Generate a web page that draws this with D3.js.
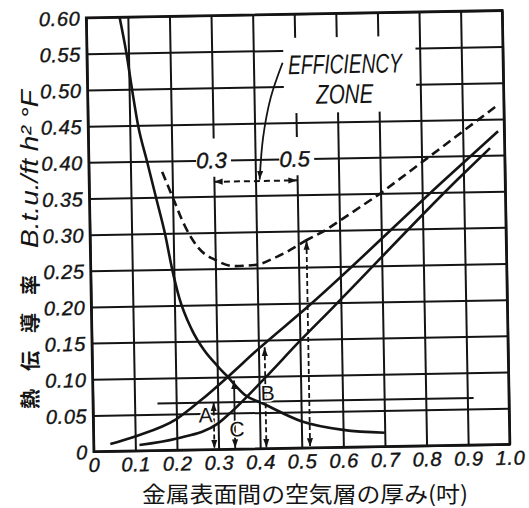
<!DOCTYPE html>
<html>
<head>
<meta charset="utf-8">
<script src="https://cdn.jsdelivr.net/npm/d3@7/dist/d3.min.js"></script>
<style>
  html, body { margin: 0; padding: 0; background: #fff; }
  svg { display: block; }
</style>
</head>
<body>
<div id="chart"></div>
<script>
// axis ticks
var xTicks = [0, 0.1, 0.2, 0.3, 0.4, 0.5, 0.6, 0.7, 0.8, 0.9, 1.0];
var xTickLabels = ["0", "0.1", "0.2", "0.3", "0.4", "0.5", "0.6", "0.7", "0.8", "0.9", "1.0"];
var yTicks = [0, 0.05, 0.10, 0.15, 0.20, 0.25, 0.30, 0.35, 0.40, 0.45, 0.50, 0.55, 0.60];
var yTickLabels = ["0", "0.05", "0.10", "0.15", "0.20", "0.25", "0.30", "0.35", "0.40", "0.45", "0.50", "0.55", "0.60"];

// curves, [thickness, coefficient]
var fallingCurve = [[0.08, 0.60], [0.095, 0.55], [0.107, 0.50], [0.12, 0.45], [0.14, 0.40], [0.16, 0.35],
  [0.18, 0.30], [0.196, 0.25], [0.212, 0.21], [0.24, 0.167], [0.27, 0.137], [0.3, 0.116], [0.325, 0.10],
  [0.365, 0.075], [0.41, 0.062], [0.5, 0.037], [0.6, 0.024], [0.7, 0.019]];
var upperRising = [[0.04, 0.01], [0.1, 0.02], [0.2, 0.043], [0.263, 0.07], [0.325, 0.10], [0.4, 0.138],
  [0.516, 0.193], [0.854, 0.367], [0.985, 0.433]];
var lowerRising = [[0.11, 0.008], [0.2, 0.016], [0.3, 0.036], [0.335, 0.053], [0.41, 0.095], [0.5, 0.148],
  [0.58, 0.193], [0.885, 0.367], [0.965, 0.41]];
var totalCurve = [[0.176, 0.385], [0.2, 0.35], [0.228, 0.31], [0.26, 0.279], [0.3, 0.262], [0.346, 0.253],
  [0.395, 0.254], [0.445, 0.264], [0.493, 0.278], [0.516, 0.286]];
var totalLine = [[0.516, 0.286], [0.565, 0.30], [0.7, 0.35], [0.98, 0.467]];
var flatLine = [[0.155, 0.065], [0.915, 0.065]];

// vertical double arrows
var arrowX = [0.29, 0.34, 0.415, 0.52];
var arrowTop = [0.065, 0.095, 0.14, 0.286];
var arrowDashed = [true, false, true, true];

// efficiency zone
var zoneRange = [0.3, 0.5];
var zoneArrowY = 0.37;
var zonePointer = [[0.47, 0.533], [0.44, 0.485], [0.42, 0.43], [0.41, 0.372]];

var markLabels = ["A", "B", "C"];
var markX = [0.27, 0.42, 0.345];
var markY = [0.048, 0.077, 0.028];

var W = 529, H = 508;
var plotL = 90, plotR = 506, plotT = 14, plotB = 448;
var narrow = "'Liberation Sans Narrow', 'Liberation Sans', Arial, sans-serif";
var ink = "#141414";

var svg = d3.select("#chart").append("svg")
  .attr("width", W)
  .attr("height", H)
  .attr("viewBox", "0 0 " + W + " " + H);

svg.append("rect").attr("width", W).attr("height", H).attr("fill", "#fff");

var defs = svg.append("defs");
defs.append("marker")
  .attr("id", "head")
  .attr("viewBox", "0 -4 10 8")
  .attr("refX", 10)
  .attr("refY", 0)
  .attr("markerWidth", 9)
  .attr("markerHeight", 7)
  .attr("markerUnits", "userSpaceOnUse")
  .attr("orient", "auto-start-reverse")
  .append("path")
  .attr("d", "M0,-3.5L10,0L0,3.5Z")
  .attr("fill", ink);

// the scan sits slightly askew
var g = svg.append("g").attr("transform", "rotate(-1,298,231)");

var x = d3.scaleLinear().domain([0, 1]).range([plotL, plotR]);
var y = d3.scaleLinear().domain([0, 0.6]).range([plotB, plotT]);

var xAxis = g.append("g")
  .attr("transform", "translate(0," + plotB + ")")
  .call(d3.axisBottom(x)
    .tickValues(xTicks)
    .tickFormat(function (d, i) { return xTickLabels[i]; })
    .tickSize(-(plotB - plotT))
    .tickPadding(6));

var yAxis = g.append("g")
  .attr("transform", "translate(" + plotL + ",0)")
  .call(d3.axisLeft(y)
    .tickValues(yTicks)
    .tickFormat(function (d, i) { return yTickLabels[i]; })
    .tickSize(-(plotR - plotL))
    .tickPadding(6));

[xAxis, yAxis].forEach(function (axis) {
  axis.select(".domain").remove();
  axis.selectAll(".tick line").attr("stroke", ink).attr("stroke-width", 2);
  axis.selectAll(".tick text")
    .attr("fill", ink)
    .attr("stroke", ink)
    .attr("stroke-width", 0.4)
    .attr("font-family", narrow)
    .attr("font-style", "italic")
    .attr("font-size", 20)
    .attr("letter-spacing", 0.6);
});
xAxis.selectAll(".tick text").attr("dy", "0.72em");
yAxis.selectAll(".tick text").attr("dy", "0.36em");

g.append("rect")
  .attr("x", plotL)
  .attr("y", plotT)
  .attr("width", plotR - plotL)
  .attr("height", plotB - plotT)
  .attr("fill", "none")
  .attr("stroke", ink)
  .attr("stroke-width", 2.6);

// blank patches where lettering sits on the grid
g.append("rect")
  .attr("x", x(0.472))
  .attr("y", y(0.567))
  .attr("width", x(0.79) - x(0.472))
  .attr("height", y(0.463) - y(0.567))
  .attr("fill", "#fff");

var zoneLabelX = [zoneRange[0], zoneRange[1]];
g.selectAll("rect.lblbg")
  .data(zoneLabelX)
  .join("rect")
  .attr("class", "lblbg")
  .attr("x", function (d) { return x(d - 0.042); })
  .attr("y", y(0.43))
  .attr("width", x(0.084) - x(0))
  .attr("height", y(0.377) - y(0.43))
  .attr("fill", "#fff");

var line = d3.line()
  .x(function (d) { return x(d[0]); })
  .y(function (d) { return y(d[1]); });

var smooth = d3.line()
  .x(function (d) { return x(d[0]); })
  .y(function (d) { return y(d[1]); })
  .curve(d3.curveMonotoneX);

[fallingCurve, upperRising, lowerRising].forEach(function (pts) {
  g.append("path")
    .attr("d", smooth(pts))
    .attr("fill", "none")
    .attr("stroke", ink)
    .attr("stroke-width", 2.6);
});

g.append("path")
  .attr("d", line(flatLine))
  .attr("fill", "none")
  .attr("stroke", ink)
  .attr("stroke-width", 2);

g.append("path")
  .attr("d", smooth(totalCurve) + line(totalLine))
  .attr("fill", "none")
  .attr("stroke", ink)
  .attr("stroke-width", 2.6)
  .attr("stroke-dasharray", "9 5");

// vertical arrows down to the axis
g.selectAll("line.varrow")
  .data(arrowX)
  .join("line")
  .attr("class", "varrow")
  .attr("x1", function (d) { return x(d); })
  .attr("x2", function (d) { return x(d); })
  .attr("y1", function (d, i) { return y(arrowTop[i]); })
  .attr("y2", y(0) - 1)
  .attr("stroke", ink)
  .attr("stroke-width", 1.8)
  .attr("stroke-dasharray", function (d, i) { return arrowDashed[i] ? "5 3" : null; })
  .attr("marker-start", "url(#head)")
  .attr("marker-end", "url(#head)");

// efficiency zone span
g.append("line")
  .attr("x1", x(zoneRange[0]))
  .attr("x2", x(zoneRange[1]))
  .attr("y1", y(zoneArrowY))
  .attr("y2", y(zoneArrowY))
  .attr("stroke", ink)
  .attr("stroke-width", 2)
  .attr("stroke-dasharray", "6 4")
  .attr("marker-start", "url(#head)")
  .attr("marker-end", "url(#head)");

g.append("path")
  .attr("d", d3.line()
    .x(function (d) { return x(d[0]); })
    .y(function (d) { return y(d[1]); })
    .curve(d3.curveCatmullRom)(zonePointer))
  .attr("fill", "none")
  .attr("stroke", ink)
  .attr("stroke-width", 1.8)
  .attr("marker-end", "url(#head)");

g.selectAll("text.zonelbl")
  .data(zoneLabelX)
  .join("text")
  .attr("class", "zonelbl")
  .attr("x", function (d) { return x(d - 0.005); })
  .attr("y", y(0.40))
  .attr("dy", "0.36em")
  .attr("text-anchor", "middle")
  .attr("font-family", narrow)
  .attr("font-style", "italic")
  .attr("font-size", 22)
  .attr("stroke", ink)
  .attr("stroke-width", 0.4)
  .attr("fill", ink)
  .text(function (d) { return d.toFixed(1); });

g.append("text")
  .attr("x", x(0.62))
  .attr("y", y(0.517))
  .attr("text-anchor", "middle")
  .attr("font-family", narrow)
  .attr("font-style", "italic")
  .attr("font-size", 27)
  .attr("textLength", 114)
  .attr("lengthAdjust", "spacingAndGlyphs")
  .attr("fill", ink)
  .text("EFFICIENCY");

g.append("text")
  .attr("x", x(0.618))
  .attr("y", y(0.4755))
  .attr("text-anchor", "middle")
  .attr("font-family", narrow)
  .attr("font-style", "italic")
  .attr("font-size", 27)
  .attr("textLength", 57)
  .attr("lengthAdjust", "spacingAndGlyphs")
  .attr("fill", ink)
  .text("ZONE");

g.selectAll("text.mark")
  .data(markLabels)
  .join("text")
  .attr("class", "mark")
  .attr("x", function (d, i) { return x(markX[i]); })
  .attr("y", function (d, i) { return y(markY[i]); })
  .attr("dy", "0.36em")
  .attr("text-anchor", "middle")
  .attr("font-family", narrow)
  .attr("font-size", 21)
  .attr("fill", ink)
  .attr("stroke", "#fff")
  .attr("stroke-width", 3)
  .attr("paint-order", "stroke")
  .text(function (d) { return d; });

// titles
svg.append("text")
  .attr("transform", "translate(38,409) rotate(-90)")
  .attr("font-family", "'Noto Sans CJK JP', sans-serif")
  .attr("font-weight", 700)
  .attr("font-size", 20)
  .attr("letter-spacing", 18)
  .attr("fill", ink)
  .text("熱伝導率");

svg.append("text")
  .attr("transform", "translate(38,248) rotate(-90)")
  .attr("font-family", narrow)
  .attr("font-style", "italic")
  .attr("font-size", 24)
  .attr("textLength", 158)
  .attr("lengthAdjust", "spacingAndGlyphs")
  .attr("fill", ink)
  .text("B.t.u./ft h² °F");

svg.append("text")
  .attr("x", 142)
  .attr("y", 502)
  .attr("font-family", "'Noto Sans CJK JP', sans-serif")
  .attr("font-size", 22)
  .attr("textLength", 326)
  .attr("lengthAdjust", "spacingAndGlyphs")
  .attr("fill", ink)
  .text("金属表面間の空気層の厚み(吋)");
</script>
</body>
</html>
